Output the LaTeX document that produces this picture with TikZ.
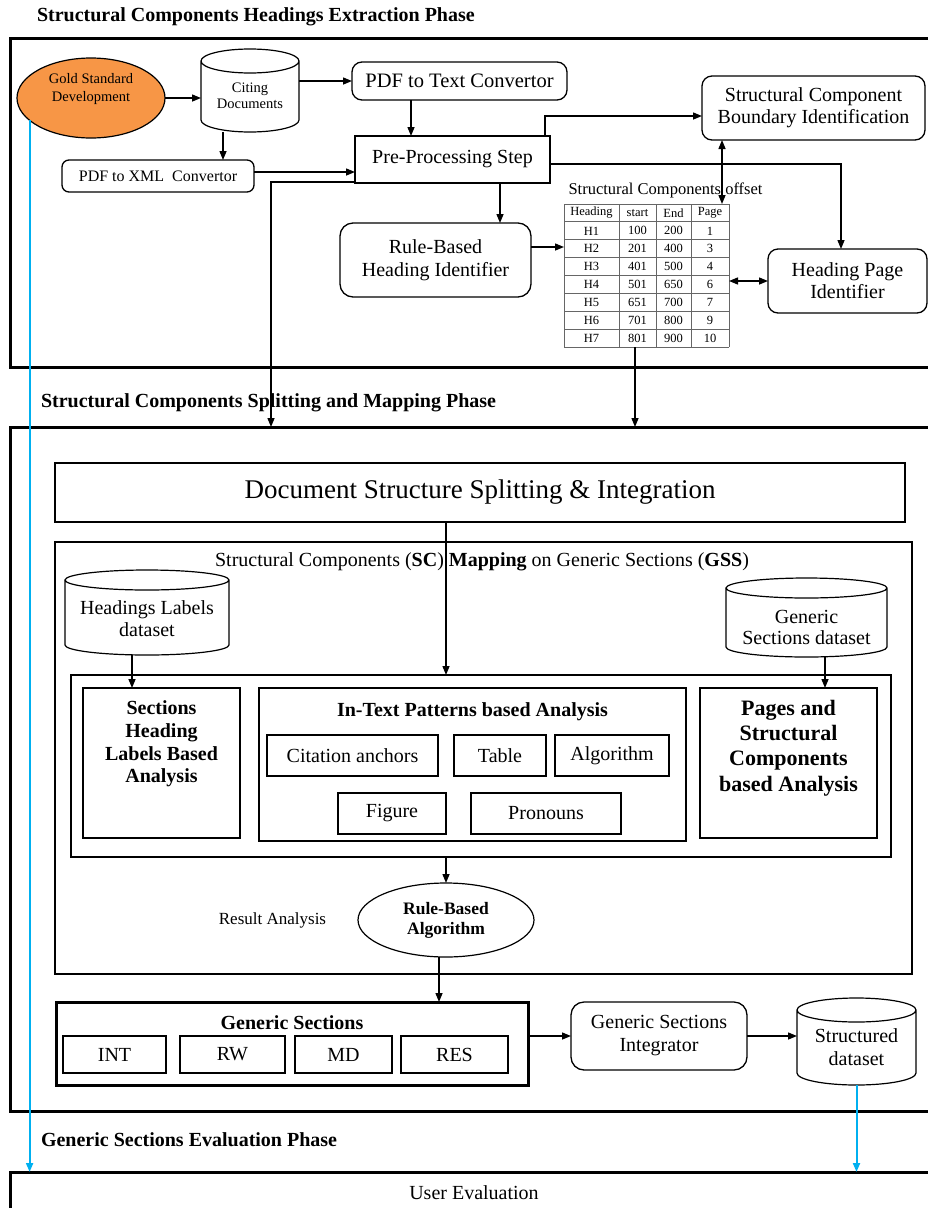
\documentclass[tikz,border=0pt]{standalone}
\usepackage{fontspec}
\setmainfont{Liberation Serif}
\usetikzlibrary{arrows.meta,shapes.geometric}

\definecolor{goldorange}{RGB}{247,150,70}
\definecolor{skyline}{RGB}{0,176,240}

% font size / baseline skip in pt
\newcommand\fsz[2]{\fontsize{#1pt}{#2pt}\selectfont}

% upright cylinder drawn around an (undrawn) rectangular node
% #1 node name, #2 horizontal radius, #3 vertical radius of the end caps
\newcommand\cylshape[3]{%
  \draw[line width=1.2pt] ([yshift=-#3]#1.north west) -- ([yshift=#3]#1.south west)
    arc[start angle=180,end angle=360,x radius=#2,y radius=#3]
    -- ([yshift=-#3]#1.north east)
    arc[start angle=0,end angle=180,x radius=#2,y radius=#3]
    arc[start angle=180,end angle=360,x radius=#2,y radius=#3];}

\begin{document}
\begin{tikzpicture}[x=1pt,y=-1pt,
  every node/.style={inner sep=0pt,outer sep=0pt},
  sz/.style 2 args={minimum width=#1pt,minimum height=#2pt},
  phase/.style={draw,line width=3pt,minimum width=930pt},
  heavy/.style={draw,line width=2.6pt},
  plain/.style={draw,line width=1.3pt},
  rbox/.style={draw,line width=1.3pt,rounded corners=10pt},
  conn/.style={line width=1.4pt,-{Triangle[length=9pt,width=7pt]}},
  dconn/.style={line width=1.4pt,{Triangle[length=9pt,width=7pt]}-{Triangle[length=9pt,width=7pt]}},
  blueconn/.style={line width=2pt,draw=skyline,-{Triangle[length=9pt,width=7pt]}},
  phasetitle/.style={font=\bfseries\fsz{20}{23},anchor=west},
  tcell/.style={font=\fsz{12.5}{14}},
  gridline/.style={line width=0.9pt,draw=black!60}
]
\useasboundingbox (0,0) rectangle (928,1208);

% ================= Phase 1: headings extraction =================
\node[phasetitle] (t1) at (37,17) {Structural Components Headings Extraction Phase};
\node[phase,minimum height=329pt] (f1) at (475,202.5) {};

\node[ellipse,draw,line width=1.2pt,fill=goldorange,sz={148}{80}] (gold) at (91,98) {};
\node[font=\fsz{14.5}{18},align=center] (goldT) at (91,89) {Gold Standard\\Development};

\node[sz={98}{83}] (cite) at (250,90.5) {};
\cylshape{cite}{49pt}{12pt}
\node[font=\fsz{14.5}{16},align=center] (citeT) at (250,96) {Citing\\Documents};

\node[rbox,sz={215}{38},font=\fsz{20.5}{23}] (p2t) at (459.5,81) {PDF to Text Convertor};
\node[rbox,rounded corners=7pt,sz={192}{32},font=\fsz{16}{19}] (p2x) at (158,176) {PDF to XML\ \ Convertor};
\node[plain,sz={195}{47},font=\fsz{20}{23}] (pre) at (452.5,159.5) {Pre-Processing Step};
\node[rbox,sz={223}{64},align=center,font=\fsz{20}{22}] (scbi) at (813.5,108) {Structural Component\\Boundary Identification};
\node[rbox,rounded corners=13pt,sz={191}{74},align=center,font=\fsz{20}{23}] (rbhi) at (435.5,260) {Rule-Based\\Heading Identifier};
\node[rbox,sz={159}{64},align=center,font=\fsz{20}{22}] (hp) at (847.5,281) {Heading Page\\Identifier};

% offsets table
\node[font=\fsz{16.5}{19}] (offs) at (665.5,190) {Structural Components offset};
\node[sz={165}{143}] (tbl) at (646.5,275.5) {};
\foreach \k in {0,...,8}
  \draw[gridline] (tbl.north west) ++(0,{\k*17.875}) -- ++(165,0);
\foreach \k in {0,55,92,127,165}
  \draw[gridline] (tbl.north west) ++(\k,0) -- ++(0,143);
\foreach \ca/\cb/\cc/\cd [count=\i from 0] in
  {Heading/start/End/Page,H1/100/200/1,H2/201/400/3,H3/401/500/4,
   H4/501/650/6,H5/651/700/7,H6/701/800/9,H7/801/900/10} {
  \node[tcell] (r\i a) at (591.5,{213+\i*17.875}) {\ca};
  \node[tcell] (r\i b) at (637.5,{213+\i*17.875}) {\cb};
  \node[tcell] (r\i c) at (673.5,{213+\i*17.875}) {\cc};
  \node[tcell] (r\i d) at (710,{213+\i*17.875}) {\cd};
}

% ================= Phase 2: splitting and mapping =================
\node[phasetitle] (t2) at (41,403) {Structural Components Splitting and Mapping Phase};
\node[phase,minimum height=684pt] (f2) at (475,769) {};

\node[heavy,sz={850}{59},font=\fsz{27}{30}] (doc) at (480,492.5) {Document Structure Splitting \& Integration};

\node[heavy,sz={857}{432}] (scm) at (483.5,758) {};
\node[font=\fsz{20}{23}] (scmT) at (482,562)
  {Structural Components (\textbf{SC}) \textbf{Mapping} on Generic Sections (\textbf{GSS})};

\node[sz={164}{85}] (hld) at (147,612.5) {};
\cylshape{hld}{82pt}{10pt}
\node[font=\fsz{20}{22},align=center] (hldT) at (147,619) {Headings Labels\\dataset};

\node[sz={161}{79}] (gsd) at (806.5,617.5) {};
\cylshape{gsd}{80.5pt}{10pt}
\node[font=\fsz{20}{21},align=center] (gsdT) at (806.5,627.5) {Generic\\Sections dataset};

\node[heavy,sz={820}{182}] (anc) at (481,766) {};

\node[heavy,sz={157}{150}] (shl) at (161.5,763) {};
\node[font=\bfseries\fsz{20}{22.7},align=center] (shlT) at (161.5,744) {Sections\\Heading\\Labels Based\\Analysis};

\node[heavy,sz={427}{153}] (itp) at (472.5,764.5) {};
\node[font=\bfseries\fsz{20}{23}] (itpT) at (472.5,712) {In-Text Patterns based Analysis};
\node[plain,sz={171}{41},font=\fsz{20}{23}] (ca) at (352.5,755.5) {Citation anchors};
\node[plain,sz={92}{41},font=\fsz{20}{23}] (tb) at (500,755.5) {Table};
\node[plain,sz={114}{41},font=\fsz{20}{23}] (al) at (612,755.5) {Algorithm};
\node[plain,sz={108}{41},font=\fsz{20}{23}] (fg) at (392,813.5) {Figure};
\node[plain,sz={150}{41},font=\fsz{20}{23}] (pr) at (546,813.5) {Pronouns};

\node[heavy,sz={177}{150}] (psc) at (788.5,763) {};
\node[font=\bfseries\fsz{22}{25.3},align=center] (pscT) at (788.5,748) {Pages and\\Structural\\Components\\based Analysis};

\node[font=\fsz{17}{20}] (res) at (272.5,920) {Result Analysis};
\node[ellipse,draw,line width=1.2pt,sz={176}{74},align=center,font=\bfseries\fsz{17.5}{20}] (rba) at (446,920) {Rule-Based\\Algorithm};

\node[heavy,line width=3pt,sz={472}{83}] (gs) at (292,1043.5) {};
\node[font=\bfseries\fsz{20}{23}] (gsT) at (292,1023) {Generic Sections};
\node[plain,sz={103}{37},font=\fsz{20}{23}] (int) at (114.5,1054.5) {INT};
\node[plain,sz={105}{37},font=\fsz{20}{23}] (rw) at (232.5,1054.5) {RW};
\node[plain,sz={97}{37},font=\fsz{20}{23}] (md) at (343.5,1054.5) {MD};
\node[plain,sz={107}{37},font=\fsz{20}{23}] (rs) at (454.5,1054.5) {RES};

\node[rbox,rounded corners=13pt,sz={176}{68},align=center,font=\fsz{20}{23}] (gsi) at (659,1036) {Generic Sections\\Integrator};

\node[sz={119}{87}] (sd) at (856.5,1041.5) {};
\cylshape{sd}{59.5pt}{12pt}
\node[font=\fsz{20}{23},align=center] (sdT) at (856.5,1047.5) {Structured\\dataset};

% ================= Phase 3: evaluation =================
\node[phasetitle] (t3) at (41,1140) {Generic Sections Evaluation Phase};
\node[phase,minimum height=53pt] (f3) at (475,1198.5) {};
\node[font=\fsz{20}{23}] (ue) at (474,1193) {User Evaluation};

% ================= connectors =================
\draw[conn] (gold.east) -- (gold.east -| cite.west);
\draw[conn] (cite.east |- p2t.west) -- (p2t.west);
\coordinate (c2x) at ([xshift=-27pt]cite.south);
\draw[conn] (c2x) -- (c2x |- p2x.north);
\coordinate (t2p) at ([xshift=-48.5pt]p2t.south);
\draw[conn] (t2p) -- (t2p |- pre.north);
\coordinate (g1) at ([yshift=4pt]p2x.east);
\draw[conn] (g1) -- (g1 -| pre.west);

\coordinate (pl) at ([yshift=-22.5pt]pre.west);
\coordinate (splitX) at (271,182);
\draw[conn] (pl) -- (splitX) -- (splitX |- f2.north);

\coordinate (pn) at ([xshift=-5pt]pre.north east);
\draw[conn] (pn) |- ([yshift=-8pt]scbi.west);
\coordinate (pe) at ([yshift=-4.5pt]pre.east);
\draw[conn] (pe) -| ([xshift=-6.5pt]hp.north);
\coordinate (ps) at ([xshift=47.5pt]pre.south);
\draw[conn] (ps) -- (ps |- rbhi.north);
\coordinate (re) at ([yshift=13pt]rbhi.east);
\draw[conn] (re) -- (re -| tbl.west);

\coordinate (pgTop) at ([xshift=-7pt]tbl.north east);
\draw[dconn] (scbi.south -| pgTop) -- (pgTop);
\draw[dconn] (tbl.east |- hp.west) -- (hp.west);
\coordinate (tbOut) at ([xshift=-11.5pt]tbl.south);
\draw[conn] (tbOut) -- (tbOut |- f2.north);

\draw[conn] (rba.north |- doc.south) -- (rba.north |- anc.north);
\coordinate (hldOut) at ([xshift=-15pt]hld.south);
\draw[conn] (hldOut) -- (hldOut |- shl.north);
\coordinate (gsdOut) at ([xshift=18.5pt]gsd.south);
\draw[conn] (gsdOut) -- (gsdOut |- psc.north);
\draw[conn] (rba.north |- anc.south) -- (rba.north);
\coordinate (rbaOut) at ([xshift=-7pt]rba.south);
\draw[conn] (rbaOut) -- (rbaOut |- gs.north);

\draw[conn] (gs.east |- gsi.west) -- (gsi.west);
\draw[conn] (gsi.east) -- (gsi.east -| sd.west);

\draw[blueconn] (gold.200) -- (gold.200 |- f3.north);
\draw[blueconn] (sd.south) -- (sd.south |- f3.north);
\end{tikzpicture}
\end{document}
